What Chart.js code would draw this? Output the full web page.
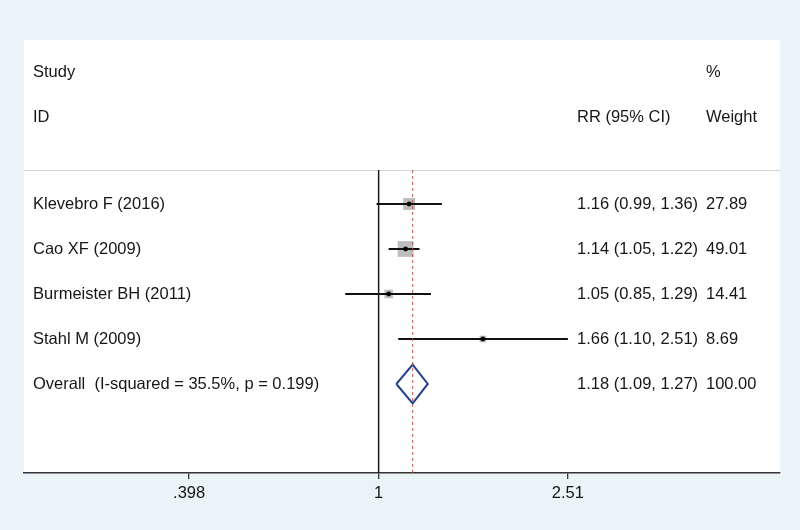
<!DOCTYPE html>
<html>
<head>
<meta charset="utf-8">
<script src="https://cdn.jsdelivr.net/npm/chart.js@4"></script>
<style>
  html, body { margin: 0; padding: 0; background: #eaf3f5; }
  #wrap { width: 800px; height: 530px; }
</style>
</head>
<body>
<div id="wrap"><canvas id="c" width="800" height="530"></canvas></div>
<script>
// ---- data ----
const studies = ['Klevebro F (2016)', 'Cao XF (2009)', 'Burmeister BH (2011)', 'Stahl M (2009)'];
const rr      = [1.16, 1.14, 1.05, 1.66];
const ciLow   = [0.99, 1.05, 0.85, 1.10];
const ciHigh  = [1.36, 1.22, 1.29, 2.51];
const weights = [27.89, 49.01, 14.41, 8.69];
const overallLabel = 'Overall  (I-squared = 35.5%, p = 0.199)';
const overallRR = 1.18, overallLow = 1.09, overallHigh = 1.27, overallWeight = 100.00;
const tickValues = [0.398, 1, 2.51];
const tickLabels = ['.398', '1', '2.51'];
const headers1 = ['Study', '', '%'];
const headers2 = ['ID', 'RR (95% CI)', 'Weight'];

// ---- layout constants ----
const X_MIN = 0.1783, X_MAX = 7.04;
const Y_MIN = -3.644, Y_MAX = 5.978;
const LINE_TOP = -0.756;
const FONT_FAMILY = '"Liberation Sans", Arial, sans-serif';
const FONT = '16.5px ' + FONT_FAMILY;
const TEXT_COLOR = '#161616';

const nRows = studies.length;
const overallRow = nRows;

const ciDatasets = studies.map((s, i) => ({
  type: 'scatter', showLine: true,
  data: [{x: ciLow[i], y: i}, {x: ciHigh[i], y: i}],
  borderColor: '#111', borderWidth: 2, pointRadius: 0, order: 2
}));

const sqDataset = {
  type: 'scatter',
  data: rr.map((v, i) => ({x: v, y: i})),
  pointStyle: 'rect',
  pointRadius: weights.map(w => Math.sqrt(w) * 2.25 / 1.414),
  backgroundColor: '#bdbdbd', borderWidth: 0, order: 3
};

const dotDataset = {
  type: 'scatter',
  data: rr.map((v, i) => ({x: v, y: i})),
  pointStyle: 'circle', pointRadius: 2.4,
  backgroundColor: '#000', borderWidth: 0, order: 1
};

const dH = 0.43;
const diamond = {
  type: 'scatter', showLine: true,
  data: [
    {x: overallLow, y: overallRow}, {x: overallRR, y: overallRow - dH},
    {x: overallHigh, y: overallRow}, {x: overallRR, y: overallRow + dH},
    {x: overallLow, y: overallRow}
  ],
  borderColor: '#27408b', borderWidth: 2, pointRadius: 0, tension: 0, order: 1
};

const nullLine = {
  type: 'scatter', showLine: true,
  data: [{x: 1, y: LINE_TOP}, {x: 1, y: Y_MAX}],
  borderColor: '#1a1a1a', borderWidth: 1.5, pointRadius: 0, order: 6
};
const overallLine = {
  type: 'scatter', showLine: true,
  data: [{x: overallRR, y: LINE_TOP}, {x: overallRR, y: Y_MAX}],
  borderColor: '#c0504d', borderWidth: 1, borderDash: [3, 3], pointRadius: 0, order: 0
};

const panelPlugin = {
  id: 'panel',
  beforeDraw(chart) {
    const {ctx, chartArea: a, scales: {y}} = chart;
    ctx.save();
    ctx.fillStyle = '#ffffff';
    ctx.fillRect(a.left, a.top, a.right - a.left, a.bottom - a.top);
    const yl = Math.round(y.getPixelForValue(LINE_TOP)) + 0.5;
    ctx.strokeStyle = '#d4d4d4';
    ctx.lineWidth = 1;
    ctx.beginPath(); ctx.moveTo(a.left, yl); ctx.lineTo(a.right, yl); ctx.stroke();
    ctx.restore();
  },
  afterDatasetsDraw(chart) {
    const {ctx, scales: {y}} = chart;
    ctx.save();
    ctx.font = FONT;
    ctx.fillStyle = TEXT_COLOR;
    ctx.textBaseline = 'middle';
    ctx.textAlign = 'left';
    const colX = [33, 577, 706];
    const h1 = y.getPixelForValue(-2.93), h2 = y.getPixelForValue(-1.93);
    headers1.forEach((t, k) => { if (t) ctx.fillText(t, colX[k], h1); });
    headers2.forEach((t, k) => { if (t) ctx.fillText(t, colX[k], h2); });
    const f = v => v.toFixed(2);
    studies.forEach((s, i) => {
      const py = y.getPixelForValue(i);
      ctx.fillText(s, colX[0], py);
      ctx.fillText(`${f(rr[i])} (${f(ciLow[i])}, ${f(ciHigh[i])})`, colX[1], py);
      ctx.fillText(f(weights[i]), colX[2], py);
    });
    const po = y.getPixelForValue(overallRow);
    ctx.fillText(overallLabel, colX[0], po);
    ctx.fillText(`${f(overallRR)} (${f(overallLow)}, ${f(overallHigh)})`, colX[1], po);
    ctx.fillText(f(overallWeight), colX[2], po);
    ctx.restore();
  }
};

new Chart(document.getElementById('c'), {
  type: 'scatter',
  data: { datasets: [overallLine, dotDataset, diamond, ...ciDatasets, sqDataset, nullLine] },
  options: {
    responsive: false,
    animation: false,
    layout: { padding: { left: 24, right: 20, top: 40, bottom: 0 } },
    plugins: { legend: { display: false }, tooltip: { enabled: false } },
    scales: {
      x: {
        type: 'logarithmic',
        min: X_MIN, max: X_MAX,
        afterFit: s => { s.height = 57; },
        afterBuildTicks: s => { s.ticks = tickValues.map(v => ({ value: v })); },
        ticks: {
          autoSkip: false, maxRotation: 0, padding: 5,
          color: TEXT_COLOR,
          font: { family: FONT_FAMILY, size: 16.5 },
          callback: (v, i) => tickLabels[i]
        },
        grid: { drawOnChartArea: false, drawTicks: true, tickLength: 6, color: '#333', lineWidth: 1.3 },
        border: { display: true, color: '#333', width: 1.5 }
      },
      y: {
        type: 'linear', reverse: true, display: false,
        min: Y_MIN, max: Y_MAX
      }
    }
  },
  plugins: [panelPlugin]
});
</script>
</body>
</html>
